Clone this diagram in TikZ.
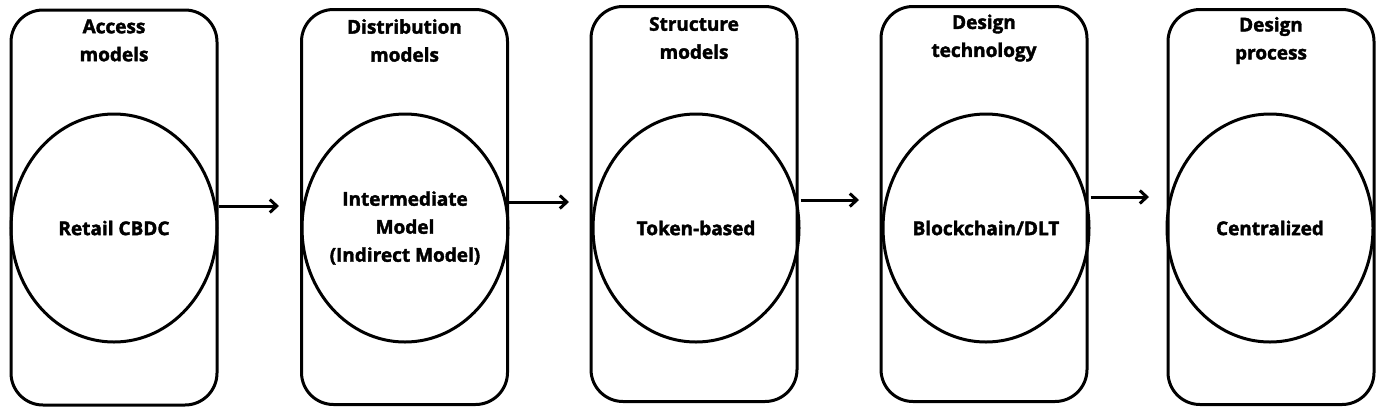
\documentclass[tikz,border=0pt]{standalone}
\usepackage{fontspec}
\setmainfont{Open Sans}[BoldFeatures={FakeBold=2}]
\usetikzlibrary{shapes.geometric,arrows.meta,positioning}

\newcommand{\fS}{\bfseries\fontsize{19}{28}\selectfont}
\tikzstyle{bS}=[rectangle,rounded corners=32pt,draw,line width=3pt,minimum width=206pt,minimum height=395pt,inner sep=0pt]
\tikzstyle{cS}=[ellipse,draw,line width=3pt,minimum width=206pt,minimum height=228pt,inner sep=0pt]
\tikzstyle{tS}=[font=\fS,align=center,inner sep=0pt]
\tikzstyle{aS}=[line width=3pt,-{Straight Barb[length=7pt,width=13pt]}]

\begin{document}
\begin{tikzpicture}[x=1pt,y=-1pt]
    \useasboundingbox (0,0) rectangle (1386,416);
    \draw (114,207.5) node[bS] (b1) {};
    \draw (404.5,207) node[bS] (b2) {};
    \draw (694,204) node[bS] (b3) {};
    \draw (984,204) node[bS] (b4) {};
    \draw (1271,207) node[bS] (b5) {};
    \draw (114,40.5) node[tS] (h1) {Access\\models};
    \draw (404.5,40.5) node[tS] (h2) {Distribution\\models};
    \draw (694,38) node[tS] (h3) {Structure\\models};
    \draw (984,38) node[tS] (h4) {Design\\technology};
    \draw (1271,40.5) node[tS] (h5) {Design\\process};
    \draw (114,228) node[cS] (c1) {};
    \draw (405,228) node[cS] (c2) {};
    \draw (696,228) node[cS] (c3) {};
    \draw (986,228) node[cS] (c4) {};
    \draw (1270,228) node[cS] (c5) {};
    \draw (c1) node[tS] (l1) {Retail CBDC};
    \draw (c2) node[tS] (l2) {Intermediate\\Model\\(Indirect Model)};
    \draw (c3) node[tS] (l3) {Token-based};
    \draw (c4) node[tS] (l4) {Blockchain/DLT};
    \draw (c5) node[tS] (l5) {Centralized};
    \coordinate (e1) at (279,206);
    \coordinate (e2) at (569,202);
    \coordinate (e3) at (859,200);
    \coordinate (e4) at (1149,197);
    \path
        (b1.east |- e1) edge[aS] (e1)
        (b2.east |- e2) edge[aS] (e2)
        (c3.east |- e3) edge[aS] (e3)
        (c4.east |- e4) edge[aS] (e4)
    ;
\end{tikzpicture}
\end{document}
